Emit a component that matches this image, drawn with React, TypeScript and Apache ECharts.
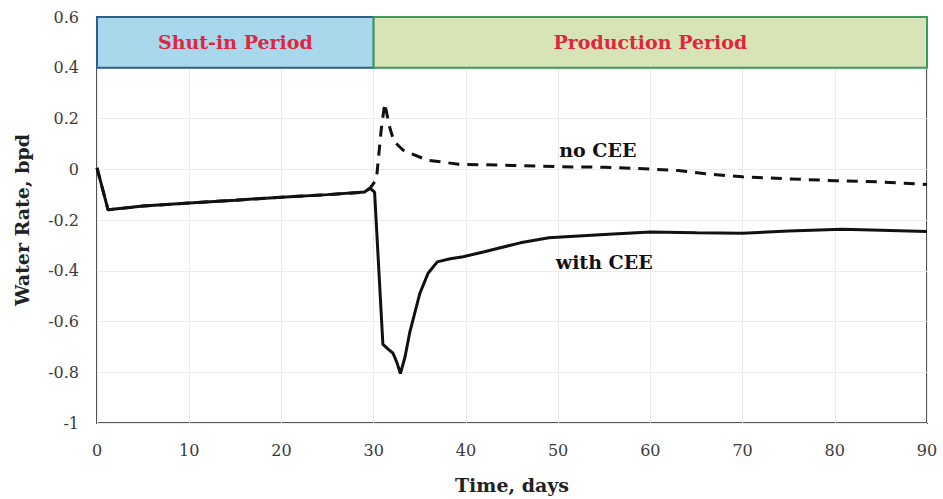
import React, { useEffect, useRef } from "react";
import * as echarts from "echarts";

// Time axis (days) and simulated water rate (bpd)
const withCeeDays = [0, 1.2, 5, 10, 15, 20, 25, 29, 29.6, 30.1, 31.0, 31.6, 32.1, 32.5, 32.9, 33.4, 33.9, 35.0, 35.9, 36.9, 38.3, 39.7, 42, 45.9, 49, 55, 60, 65, 70, 75, 80.8, 85, 90];
const withCeeRate = [0.005, -0.16, -0.145, -0.133, -0.122, -0.11, -0.1, -0.09, -0.075, -0.09, -0.69, -0.71, -0.725, -0.76, -0.805, -0.74, -0.645, -0.49, -0.41, -0.365, -0.353, -0.345, -0.325, -0.29, -0.27, -0.257, -0.247, -0.25, -0.252, -0.243, -0.236, -0.24, -0.245];

const noCeeDays = [0, 1.2, 5, 10, 15, 20, 25, 29, 29.6, 30.3, 30.8, 31.2, 31.7, 32.2, 33.2, 35.8, 39.2, 45, 50, 55, 58, 63, 66, 70, 75, 80, 85, 90];
const noCeeRate = [0.005, -0.16, -0.145, -0.133, -0.122, -0.11, -0.1, -0.09, -0.075, -0.04, 0.15, 0.26, 0.17, 0.11, 0.075, 0.036, 0.02, 0.015, 0.01, 0.008, 0.004, -0.005, -0.018, -0.03, -0.038, -0.045, -0.05, -0.06];

const periodNames = ["Shut-in Period", "Production Period"];
const periodStart = [0, 30];
const periodEnd = [30, 90];
const periodFill = ["#a9d8ec", "#d7e4b6"];
const periodBorder = ["#2f5f8c", "#3d9a5c"];

const xTicks = { min: 0, max: 90, interval: 10 };
const yTicks = { min: -1, max: 0.6, interval: 0.2 };

const serif = "DejaVu Serif";

function zip(xs: number[], ys: number[]) {
  return xs.map((x, i) => [x, ys[i]]);
}

export default function App() {
  const ref = useRef<HTMLDivElement>(null);

  useEffect(() => {
    if (!ref.current) return;
    const chart = echarts.init(ref.current, undefined, { renderer: "svg" });

    const bands = periodNames.map((name, i) => [
      {
        xAxis: periodStart[i],
        yAxis: 0.4,
        name,
        itemStyle: {
          color: periodFill[i],
          opacity: 1,
          borderColor: periodBorder[i],
          borderWidth: 2,
        },
        label: {
          show: true,
          position: "inside",
          formatter: name,
          color: "#e0263e",
          fontFamily: serif,
          fontWeight: "bold",
          fontSize: 19,
        },
      },
      { xAxis: periodEnd[i], yAxis: 0.6 },
    ]);

    const curveLabel = (text: string) => ({
      show: true,
      position: "inside",
      formatter: text,
      fontFamily: serif,
      fontWeight: "bold",
      fontSize: 19,
      color: "#111",
    });

    chart.setOption({
      animation: false,
      backgroundColor: "#ffffff",
      grid: {
        left: 97,
        right: 16,
        top: 17,
        bottom: 76,
        show: true,
        borderColor: "#555555",
        borderWidth: 2,
      },
      xAxis: {
        type: "value",
        min: xTicks.min,
        max: xTicks.max,
        interval: xTicks.interval,
        name: "Time, days",
        nameLocation: "middle",
        nameGap: 52,
        nameTextStyle: { fontFamily: serif, fontWeight: "bold", fontSize: 19, color: "#222" },
        axisLine: { show: false },
        axisTick: { show: false },
        axisLabel: { fontFamily: serif, fontSize: 16, color: "#3a3a3a", margin: 19 },
        splitLine: { show: true, lineStyle: { color: "#ececec", width: 1 } },
      },
      yAxis: {
        type: "value",
        min: yTicks.min,
        max: yTicks.max,
        interval: yTicks.interval,
        name: "Water Rate, bpd",
        nameLocation: "middle",
        nameGap: 66,
        nameRotate: 90,
        nameTextStyle: { fontFamily: serif, fontWeight: "bold", fontSize: 19, color: "#222" },
        axisLine: { show: false },
        axisTick: { show: false },
        axisLabel: { fontFamily: serif, fontSize: 16, color: "#3a3a3a", margin: 18 },
        splitLine: { show: true, lineStyle: { color: "#ececec", width: 1 } },
      },
      series: [
        {
          name: "no CEE",
          type: "line",
          data: zip(noCeeDays, noCeeRate),
          showSymbol: false,
          lineStyle: { color: "#111", width: 3, type: [11, 8] },
          z: 3,
          markPoint: {
            symbol: "circle",
            symbolSize: 0,
            data: [{ coord: [54.3, 0.076] }],
            label: curveLabel("no CEE"),
          },
        },
        {
          name: "with CEE",
          type: "line",
          data: zip(withCeeDays, withCeeRate),
          showSymbol: false,
          lineStyle: { color: "#111", width: 3 },
          z: 4,
          markArea: { silent: true, data: bands },
          markPoint: {
            symbol: "circle",
            symbolSize: 0,
            data: [{ coord: [55, -0.365] }],
            label: curveLabel("with CEE"),
          },
        },
      ],
    });

    return () => chart.dispose();
  }, []);

  return (
    <div
      ref={ref}
      style={{ position: "fixed", left: 0, top: 0, width: 943, height: 499 }}
    />
  );
}
